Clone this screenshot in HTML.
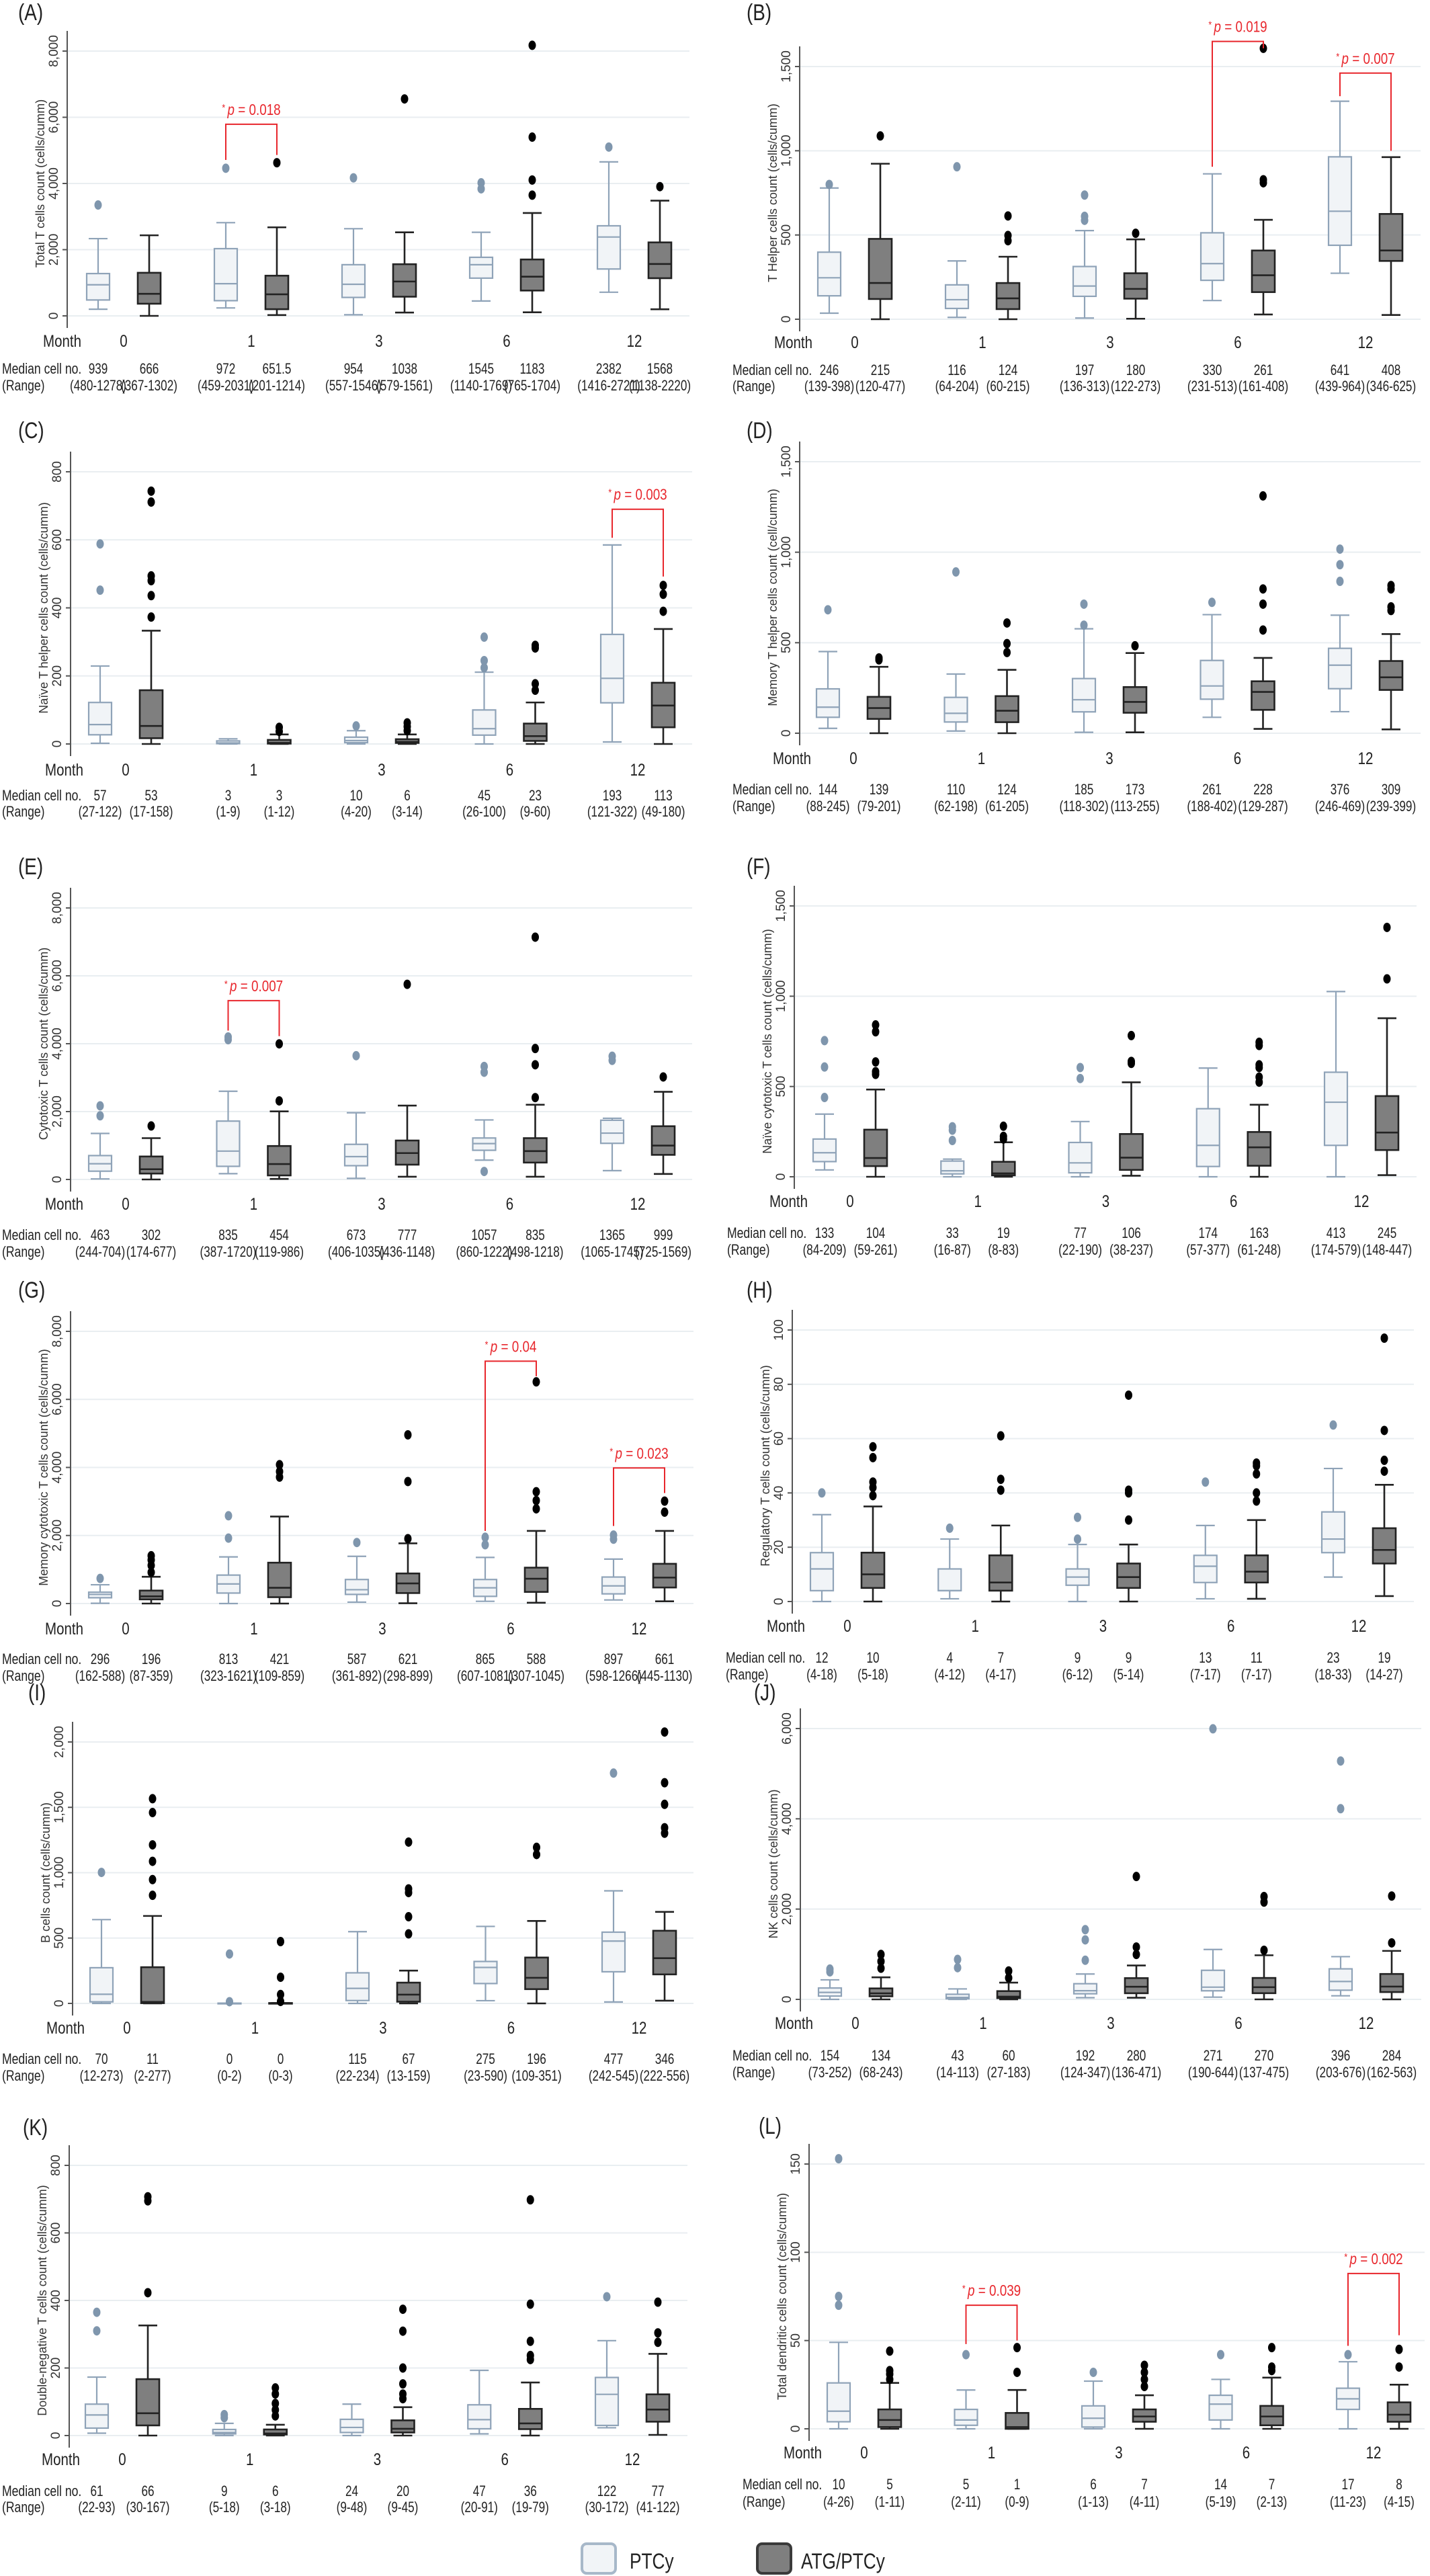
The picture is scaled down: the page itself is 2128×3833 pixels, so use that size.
<!DOCTYPE html>
<html><head><meta charset="utf-8"><title>Immune reconstitution box plots</title>
<style>
html,body{margin:0;padding:0;background:#fff;}
svg{display:block;font-family:"Liberation Sans",Arial,sans-serif;}
</style></head>
<body>
<svg id="fig" width="2128" height="3833" viewBox="0 0 2128 3833" xmlns="http://www.w3.org/2000/svg">
<g id="legend">
  <g>
    <rect x="866" y="3785" width="50" height="44" rx="7" fill="#f1f4f7" stroke="#a7b8c9" stroke-width="4"/>
    <text x="937" y="3822" font-size="32" transform="translate(937,3822) scale(0.82,1) translate(-937,-3822)" fill="#222">PTCy</text>
  </g>
  <g>
    <rect x="1127" y="3785" width="50" height="44" rx="7" fill="#7f7f7f" stroke="#3a3a3a" stroke-width="4"/>
    <text x="1192" y="3822" font-size="32" transform="translate(1192,3822) scale(0.82,1) translate(-1192,-3822)" fill="#222">ATG/PTCy</text>
  </g>
</g>
</svg>
<script>
const months = ["0","1","3","6","12"];

// Panel A
const A_ticks = [0,2000,4000,6000,8000];
const A_ptcy = [[200,480,939,1278,2334],[240,459,972,2031,2816],[33,557,954,1546,2633],[449,1140,1545,1769,2525],[714,1416,2382,2721,4652]];
const A_atg = [[0,367,666,1302,2434],[25,201,651.5,1214,2675],[100,579,1038,1561,2525],[108,765,1183,1704,3107],[200,1138,1568,2220,3480]];
const A_ptcyOut = [[3350],[4460],[4170],[4020,3838],[5100]];
const A_atgOut = [[],[4627],[6554],[8174,5400,4104,3647],[3904]];
const A_sig = [{g:1,top:5790,l:4710,r:4860,p:"0.018"}];

// Panel B
const B_ticks = [0,500,1000,1500];
const B_ptcy = [[36,139,246,398,779],[11,64,116,204,346],[7,136,197,313,526],[111,231,330,513,863],[273,439,641,964,1294]];
const B_atg = [[0,120,215,477,923],[0,60,124,215,371],[3,122,180,273,474],[28,161,261,408,590],[25,346,408,625,962]];
const B_ptcyOut = [[800],[905],[737,611,587],[],[]];
const B_atgOut = [[1088],[613,497,466],[510],[1608,828,810],[]];
const B_sig = [{g:3,top:1649,l:905,r:1608,p:"0.019"},{g:4,top:1461,l:1324,r:1000,p:"0.007"}];

// Panel C
const C_ticks = [0,200,400,600,800];
const C_ptcy = [[2,27,57,122,229],[0,1,3,9,15],[0,4,10,20,39],[0,26,45,100,211],[6,121,193,322,585]];
const C_atg = [[0,17,53,158,333],[0,1,3,12,28],[0,3,6,14,28],[0,9,23,60,122],[0,49,113,180,338]];
const C_ptcyOut = [[588,452],[],[53],[314,245,224],[]];
const C_atgOut = [[743,711,494,480,436,373],[49,37],[62,51,39],[290,282,177,158],[466,440,390]];
const C_sig = [{g:4,top:690,l:606,r:492,p:"0.003"}];

// Panel D
const D_ticks = [0,500,1000,1500];
const D_ptcy = [[27,88,144,245,451],[12,62,110,198,327],[5,118,185,302,577],[88,188,261,402,655],[119,246,376,469,652]];
const D_atg = [[0,79,139,201,367],[0,61,124,205,350],[5,113,173,255,443],[24,129,228,287,416],[21,239,309,399,548]];
const D_ptcyOut = [[682],[891],[713,597],[723],[1017,931,839]];
const D_atgOut = [[416,405],[609,495,446],[483],[1311,797,713,570],[816,797,698,678]];
const D_sig = [];

// Panel E
const E_ticks = [0,2000,4000,6000,8000];
const E_ptcy = [[16,244,463,704,1356],[171,387,835,1720,2599],[32,406,673,1035,1966],[569,860,1057,1222,1754],[260,1065,1365,1745,1803]];
const E_atg = [[0,174,302,677,1218],[16,119,454,986,2006],[81,436,777,1148,2177],[81,498,835,1218,2201],[162,725,999,1569,2583]];
const E_ptcyOut = [[2169,1876],[4199,4118],[3647],[236,3330,3159],[3630,3509]];
const E_atgOut = [[1576],[3996,2315],[5750],[7139,3858,3379,2412],[3021]];
const E_sig = [{g:1,top:5271,l:4386,r:4223,p:"0.007"}];

// Panel F
const F_ticks = [0,500,1000,1500];
const F_ptcy = [[38,84,133,209,347],[0,16,33,87,98],[0,22,77,190,306],[0,57,174,377,602],[0,174,413,579,1026]];
const F_atg = [[0,59,104,261,483],[0,8,19,83,191],[6,38,106,237,523],[0,61,163,248,399],[9,148,245,447,878]];
const F_ptcyOut = [[754,608,439],[277,258,201],[605,544],[],[]];
const F_atgOut = [[841,803,636,582,567],[280,224,209],[782,639,628],[745,727,620,605,552,524],[1381,1096]];
const F_sig = [];

// Panel G
const G_ticks = [0,2000,4000,6000,8000];
const G_ptcy = [[8,170,268,333,552],[0,308,576,836,1371],[41,268,406,706,1387],[65,211,462,706,1355],[105,284,519,779,1306]];
const G_atg = [[0,122,211,381,787],[0,187,462,1201,2556],[8,308,592,884,1769],[24,341,730,1055,2134],[65,471,763,1168,2134]];
const G_ptcyOut = [[738],[2580,1923],[1793],[1947,1728],[2012,1891]];
const G_atgOut = [[1404,1282,1120,917],[4081,3879,3716],[4958,3586,1907],[6515,3286,3027,2783],[3010,2686]];
const G_sig = [{g:3,top:7124,l:2134,r:6678,p:"0.04"},{g:4,top:3984,l:2280,r:3246,p:"0.023"}];
const G_medTxt = ["296","196","813","421","587","621","865","588","897","661"];
const G_rngTxt = ["(162-588)","(87-359)","(323-1621)","(109-859)","(361-892)","(298-899)","(607-1081)","(307-1045)","(598-1266)","(445-1130)"];

// Panel H
const H_ticks = [0,20,40,60,80,100];
const H_ptcy = [[0,4,12,18,32],[1,4,4,12,23],[0,6,9,12,21],[1,7,13,17,28],[9,18,23,33,49]];
const H_atg = [[0,5,10,18,35],[0,4,7,17,28],[0,5,9,14,21],[1,7,11,17,30],[2,14,19,27,43]];
const H_ptcyOut = [[40],[27],[31,23],[44],[65]];
const H_atgOut = [[57,53,44,42,39],[61,45,41],[76,41,40,30],[51,50,47,40,37],[97,63,52,48]];
const H_sig = [];

// Panel I
const I_ticks = [0,500,1000,1500,2000];
const I_ptcy = [[0,12,70,273,641],[0,0,0,2,2],[0,22,115,234,549],[21,152,275,321,589],[11,242,477,545,861]];
const I_atg = [[0,2,11,277,669],[0,0,0,3,3],[0,13,67,159,251],[0,109,196,351,631],[21,222,346,556,700]];
const I_ptcyOut = [[1002],[378,13],[],[],[1762]];
const I_atgOut = [[1566,1460,1213,1087,947,827],[473,200,68,15],[1234,876,848,663,532],[1194,1139],[2076,1688,1523,1344,1302]];
const I_sig = [];
const I_medTxt = ["70","11","0","0","115","67","275","196","477","346"];
const I_rngTxt = ["(12-273)","(2-277)","(0-2)","(0-3)","(22-234)","(13-159)","(23-590)","(109-351)","(242-545)","(222-556)"];

// Panel J
const J_ticks = [0,2000,4000,6000];
const J_ptcy = [[0,73,154,252,433],[0,14,43,113,232],[37,124,192,347,562],[49,190,271,644,1105],[79,203,396,676,946]];
const J_atg = [[0,68,134,243,488],[0,27,60,183,372],[37,136,280,471,751],[0,137,270,475,977],[0,162,284,563,1074]];
const J_ptcyOut = [[671,610],[885,702],[1544,1318,867],[5994],[5280,4224]];
const J_atgOut = [[995,842,690],[629,476],[2722,1160,995],[2277,2155,1087],[2289,1251]];
const J_sig = [];

// Panel K
const K_ticks = [0,200,400,600,800];
const K_ptcy = [[7,22,61,93,173],[0,5,9,18,36],[0,9,24,48,93],[5,20,47,91,193],[23,30,122,172,281]];
const K_atg = [[0,30,66,167,326],[0,3,6,18,32],[0,9,20,45,84],[0,19,36,79,157],[2,41,77,122,242]];
const K_ptcyOut = [[365,310],[62,53],[],[],[411]];
const K_atgOut = [[707,695,423],[141,123,95,76,58],[374,309,200,153,123,109],[698,389,279,237,225],[395,304,276]];
const K_sig = [];

// Panel L
const L_ticks = [0,50,100,150];
const L_ptcy = [[0,4,10,26,49],[0,2,5,11,22],[0,1,6,13,27],[0,5,14,19,28],[0,11,17,23,38]];
const L_atg = [[0,1,5,11,26],[0,0,1,9,22],[0,4,7,11,19],[0,2,7,13,29],[0,4,8,15,25]];
const L_ptcyOut = [[153,75,70],[42],[32],[42],[42]];
const L_atgOut = [[44,33,31,28],[46,32],[36,32,28,24],[46,35,33],[45,35]];
const L_sig = [{g:1,top:70,l:48,r:50,p:"0.039"},{g:4,top:88,l:47,r:53,p:"0.002"}];

const panels = [
 {id:"A",title:"Total T cells count (cells/cumm)",ticks:A_ticks,p:A_ptcy,a:A_atg,po:A_ptcyOut,ao:A_atgOut,sig:A_sig,
  geo:{ax:100,zero:470,topY:76,g0:184,g12:944,month:507,med:548,rng:573,lx:27,ly:18,right:1026,mlx:3}},
 {id:"B",title:"T Helper cells count (cells/cumm)",ticks:B_ticks,p:B_ptcy,a:B_atg,po:B_ptcyOut,ao:B_atgOut,sig:B_sig,
  geo:{ax:1190,zero:475,topY:99,g0:1272,g12:2032,month:509,med:550,rng:574,lx:1111,ly:18,right:2114,mlx:1090}},
 {id:"C",title:"Naïve T helper cells count (cells/cumm)",ticks:C_ticks,p:C_ptcy,a:C_atg,po:C_ptcyOut,ao:C_atgOut,sig:C_sig,
  geo:{ax:105,zero:1107,topY:702,g0:187,g12:949,month:1145,med:1183,rng:1207,lx:27,ly:640,right:1030,mlx:3}},
 {id:"D",title:"Memory T helper cells count (cell/cumm)",ticks:D_ticks,p:D_ptcy,a:D_atg,po:D_ptcyOut,ao:D_atgOut,sig:D_sig,
  geo:{ax:1190,zero:1091,topY:687,g0:1270,g12:2032,month:1128,med:1174,rng:1199,lx:1111,ly:640,right:2114,mlx:1090}},
 {id:"E",title:"Cytotoxic T cells count (cells/cumm)",ticks:E_ticks,p:E_ptcy,a:E_atg,po:E_ptcyOut,ao:E_atgOut,sig:E_sig,
  geo:{ax:105,zero:1755,topY:1351,g0:187,g12:949,month:1791,med:1837,rng:1862,lx:27,ly:1289,right:1030,mlx:3}},
 {id:"F",title:"Naïve cytotoxic T cells count (cells/cumm)",ticks:F_ticks,p:F_ptcy,a:F_atg,po:F_ptcyOut,ao:F_atgOut,sig:F_sig,
  geo:{ax:1182,zero:1751,topY:1348,g0:1265,g12:2026,month:1787,med:1834,rng:1859,lx:1111,ly:1289,right:2108,mlx:1082}},
 {id:"G",title:"Memory cytotoxic T cells count (cells/cumm)",ticks:G_ticks,p:G_ptcy,a:G_atg,po:G_ptcyOut,ao:G_atgOut,sig:G_sig,medTxt:G_medTxt,rngTxt:G_rngTxt,
  geo:{ax:105,zero:2386,topY:1981,g0:187,g12:951,month:2423,med:2468,rng:2493,lx:27,ly:1919,right:1032,mlx:3}},
 {id:"H",title:"Regulatory T cells count (cells/cumm)",ticks:H_ticks,p:H_ptcy,a:H_atg,po:H_ptcyOut,ao:H_atgOut,sig:H_sig,
  geo:{ax:1179,zero:2383,topY:1979,g0:1261,g12:2022,month:2419,med:2466,rng:2491,lx:1111,ly:1919,right:2104,mlx:1080}},
 {id:"I",title:"B cells count (cells/cumm)",ticks:I_ticks,p:I_ptcy,a:I_atg,po:I_ptcyOut,ao:I_atgOut,sig:I_sig,medTxt:I_medTxt,rngTxt:I_rngTxt,
  geo:{ax:108,zero:2981,topY:2592,g0:189,g12:951,month:3017,med:3063,rng:3088,lx:42,ly:2518,right:1032,mlx:3}},
 {id:"J",title:"NK cells count (cells/cumm)",ticks:J_ticks,p:J_ptcy,a:J_atg,po:J_ptcyOut,ao:J_atgOut,sig:J_sig,
  geo:{ax:1191,zero:2975,topY:2572,g0:1273,g12:2033,month:3010,med:3058,rng:3083,lx:1122,ly:2518,right:2115,mlx:1090}},
 {id:"K",title:"Double-negative T cells count (cells/cumm)",ticks:K_ticks,p:K_ptcy,a:K_atg,po:K_ptcyOut,ao:K_atgOut,sig:K_sig,
  geo:{ax:103,zero:3624,topY:3222,g0:182,g12:941,month:3659,med:3706,rng:3730,lx:34,ly:3165,right:1023,mlx:3}},
 {id:"L",title:"Total dendritic cells count (cells/cumm)",ticks:L_ticks,p:L_ptcy,a:L_atg,po:L_ptcyOut,ao:L_atgOut,sig:L_sig,
  geo:{ax:1204,zero:3614,topY:3220,g0:1286,g12:2044,month:3649,med:3696,rng:3722,lx:1129,ly:3163,right:2120,mlx:1105}}
];

const NS = "http://www.w3.org/2000/svg";
const svg = document.getElementById("fig");
function mk(tag, attrs, parent){
  const e = document.createElementNS(NS, tag);
  for (const k in attrs) e.setAttribute(k, attrs[k]);
  parent.appendChild(e);
  return e;
}
function txt(parent, x, y, s, size, anchor, sx, fill){
  const t = document.createElementNS(NS, "text");
  t.setAttribute("x", 0); t.setAttribute("y", 0);
  t.setAttribute("font-size", size);
  t.setAttribute("text-anchor", anchor);
  t.setAttribute("fill", fill || "#222");
  t.setAttribute("transform", "translate(" + x + "," + y + ") scale(" + sx + ",1)");
  t.textContent = s;
  parent.appendChild(t);
  return t;
}
const fmt = v => v.toLocaleString("en-US");

panels.forEach(P => {
  const G = P.geo;
  const g = mk("g", {}, svg);
  
  
  const maxV = P.ticks[P.ticks.length - 1];
  const yS = v => G.zero - v / maxV * (G.zero - G.topY);
  const sp = (G.g12 - G.g0) / 4;
  const gx = i => G.g0 + i * sp;

  const lab = txt(g, G.lx, G.ly + 12, "(" + P.id + ")", 34, "start", 0.82);
  
  

  P.ticks.forEach(t => {
    const y = yS(t);
    const gl = mk("line", {x1:G.ax, x2:G.right, y1:y, y2:y, stroke:"#e9eef1", "stroke-width":2}, g);
    
    
    mk("line", {x1:G.ax - 7, x2:G.ax, y1:y, y2:y, stroke:"#555", "stroke-width":2}, g);
    const tl = document.createElementNS(NS, "text");
    tl.setAttribute("x", 0); tl.setAttribute("y", 0);
    tl.setAttribute("font-size", 19);
    tl.setAttribute("text-anchor", "middle");
    tl.setAttribute("fill", "#333");
    tl.setAttribute("transform", "translate(" + (G.ax - 14) + "," + y + ") rotate(-90)");
    tl.textContent = fmt(t);
    
    
    g.appendChild(tl);
  });
  const axl = mk("line", {x1:G.ax, x2:G.ax, y1:G.topY - 30, y2:G.zero + 18, stroke:"#555", "stroke-width":2}, g);
  
  
  const tt = document.createElementNS(NS, "text");
  tt.setAttribute("x", 0); tt.setAttribute("y", 0);
  tt.setAttribute("font-size", 18);
  tt.setAttribute("text-anchor", "middle");
  tt.setAttribute("fill", "#333");
  tt.setAttribute("transform", "translate(" + (G.ax - 34) + "," + ((G.topY + G.zero) / 2) + ") rotate(-90)");
  tt.textContent = P.title;
  
  
  g.appendChild(tt);

  const ml = txt(g, G.g0 - 120, G.month + 9, "Month", 25, "start", 0.82);
  
  
  months.forEach((m, i) => {
    const t = txt(g, gx(i), G.month + 9, m, 25, "middle", 0.82);
    
    
  });
  const mh = txt(g, G.mlx, G.med + 8, "Median cell no.", 22, "start", 0.8);
  
  
  const rh = txt(g, G.mlx, G.rng + 8, "(Range)", 22, "start", 0.8);
  
  

  function drawBox(d, outs, cx, isAtg, idx){
    const stroke = isAtg ? "#222" : "#8fa3b8";
    const fill = isAtg ? "#7f7f7f" : "#f1f4f7";
    const sw = isAtg ? 2.6 : 2.2;
    const bg = mk("g", {}, g);
    
    
    const [lo, q1, md, q3, hi] = d;
    mk("line", {x1:cx, x2:cx, y1:yS(q3), y2:yS(hi), stroke:stroke, "stroke-width":sw}, bg);
    mk("line", {x1:cx, x2:cx, y1:yS(q1), y2:yS(lo), stroke:stroke, "stroke-width":sw}, bg);
    mk("line", {x1:cx - 14, x2:cx + 14, y1:yS(hi), y2:yS(hi), stroke:stroke, "stroke-width":sw}, bg);
    mk("line", {x1:cx - 14, x2:cx + 14, y1:yS(lo), y2:yS(lo), stroke:stroke, "stroke-width":sw}, bg);
    mk("rect", {x:cx - 17, y:yS(q3), width:34, height:Math.max(1, yS(q1) - yS(q3)), fill:fill, stroke:stroke, "stroke-width":sw}, bg);
    mk("line", {x1:cx - 17, x2:cx + 17, y1:yS(md), y2:yS(md), stroke:stroke, "stroke-width":sw}, bg);
    outs.forEach(v => {
      const c = mk("ellipse", {cx:cx, cy:yS(v), rx:5.5, ry:7, fill:isAtg ? "#000" : "#7f96ad"}, bg);
      
      
    });
  }

  for (let i = 0; i < 5; i++) {
    const cp = gx(i) - 38, ca = gx(i) + 38;
    drawBox(P.p[i], P.po[i], cp, false, i);
    drawBox(P.a[i], P.ao[i], ca, true, i);
    const mp = P.medTxt ? P.medTxt[2*i] : String(P.p[i][2]);
    const ma = P.medTxt ? P.medTxt[2*i+1] : String(P.a[i][2]);
    const rp = P.rngTxt ? P.rngTxt[2*i] : "(" + P.p[i][1] + "-" + P.p[i][3] + ")";
    const ra = P.rngTxt ? P.rngTxt[2*i+1] : "(" + P.a[i][1] + "-" + P.a[i][3] + ")";
    [[cp, mp, rp, "ptcy"], [ca, ma, ra, "atg"]].forEach(([x, m, r, k]) => {
      const t1 = txt(g, x, G.med + 8, m, 22, "middle", 0.78);
      
      
      const t2 = txt(g, x, G.rng + 8, r, 22, "middle", 0.78);
      
      
    });
  }

  P.sig.forEach(s => {
    const x1 = gx(s.g) - 38, x2 = gx(s.g) + 38, yt = yS(s.top);
    const sg = mk("g", {}, g);
    
    
    mk("polyline", {points: x1 + "," + yS(s.l) + " " + x1 + "," + yt + " " + x2 + "," + yt + " " + x2 + "," + yS(s.r),
      fill:"none", stroke:"#e8262c", "stroke-width":2}, sg);
    const t = document.createElementNS(NS, "text");
    t.setAttribute("x", 0); t.setAttribute("y", 0);
    t.setAttribute("font-size", 23);
    t.setAttribute("text-anchor", "middle");
    t.setAttribute("fill", "#e8262c");
    t.setAttribute("transform", "translate(" + gx(s.g) + "," + (yt - 14) + ") scale(0.82,1)");
    const a = document.createElementNS(NS, "tspan"); a.setAttribute("font-size", 15); a.setAttribute("dy", "-6"); a.textContent = "* ";
    const b = document.createElementNS(NS, "tspan"); b.setAttribute("font-style", "italic"); b.setAttribute("dy", "6"); b.textContent = "p";
    const c = document.createElementNS(NS, "tspan"); c.textContent = " = " + s.p;
    t.appendChild(a); t.appendChild(b); t.appendChild(c);
    
    
    sg.appendChild(t);
  });
});
</script>
</body></html>
